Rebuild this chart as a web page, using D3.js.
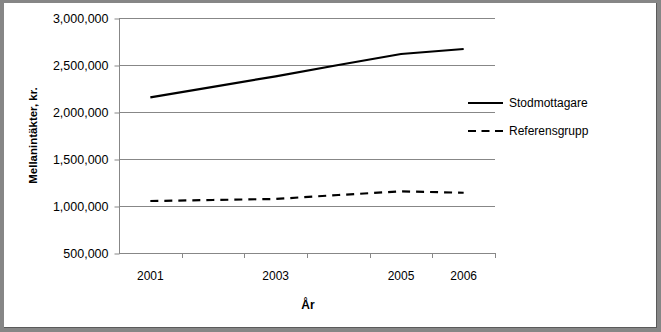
<!DOCTYPE html>
<html>
<head>
<meta charset="utf-8">
<script src="https://cdn.jsdelivr.net/npm/d3@7"></script>
<style>
  html, body { margin: 0; padding: 0; background: #fff; }
  svg { display: block; font-family: "Liberation Sans", Arial, sans-serif; }
</style>
</head>
<body>
<div id="plot"></div>
<script>
// Data
const years = ["2001", "2002", "2003", "2004", "2005", "2006"];
const yearLabels = ["2001", "", "2003", "", "2005", "2006"];
const stodmottagare = [2156000, 2268000, 2379000, 2500000, 2617000, 2670000];
const referensgrupp = [1053000, 1064000, 1075000, 1117000, 1156000, 1141000];
const yTicks = [500000, 1000000, 1500000, 2000000, 2500000, 3000000];
const seriesNames = ["Stodmottagare", "Referensgrupp"];

const W = 661, H = 332;
const plot = { left: 119, right: 495, top: 18, bottom: 253 };

const svg = d3.select("#plot").append("svg")
  .attr("width", W)
  .attr("height", H);

// Frame
svg.append("rect").attr("width", W).attr("height", H).attr("fill", "#868686");
svg.append("rect").attr("x", 4).attr("y", 3).attr("width", 652).attr("height", 324).attr("fill", "#fff");
svg.append("line").attr("x1", 656.5).attr("x2", 656.5).attr("y1", 3).attr("y2", 328).attr("stroke", "#5a5a5a");
svg.append("line").attr("x1", 4).attr("x2", 657).attr("y1", 327.5).attr("y2", 327.5).attr("stroke", "#5a5a5a");

// Scales
const xScale = d3.scaleBand().domain(years).range([plot.left, plot.right]).padding(0);
const yScale = d3.scaleLinear().domain([500000, 3000000]).range([plot.bottom, plot.top]);
const xMid = d => xScale(d) + xScale.bandwidth() / 2;

// Gridlines
svg.append("g").selectAll("line")
  .data(yTicks.slice(1))
  .join("line")
  .attr("x1", plot.left).attr("x2", plot.right)
  .attr("y1", d => Math.round(yScale(d)) + 0.5)
  .attr("y2", d => Math.round(yScale(d)) + 0.5)
  .attr("stroke", "#878787");

// Y axis
const yAxis = svg.append("g")
  .attr("transform", `translate(${plot.left + 0.5},0.5)`)
  .call(d3.axisLeft(yScale).tickValues(yTicks).tickFormat(d3.format(",")).tickSize(5).tickPadding(6));
yAxis.select(".domain").attr("stroke", "#878787").attr("d", `M0,${plot.top}V${plot.bottom}`);
yAxis.selectAll(".tick line").attr("stroke", "#878787");
yAxis.selectAll("text").attr("font-size", 12.5).attr("fill", "#000")
  .attr("font-family", "Liberation Sans, Arial, sans-serif");

// X axis
const xAxis = svg.append("g")
  .attr("transform", `translate(0,${plot.bottom + 0.5})`)
  .call(d3.axisBottom(xScale).tickSize(0).tickPadding(18).tickFormat((d, i) => yearLabels[i]));
xAxis.select(".domain").attr("stroke", "#878787").attr("d", `M${plot.left},0H${plot.right + 0.5}`);
xAxis.selectAll("text").attr("font-size", 12).attr("fill", "#000")
  .attr("font-family", "Liberation Sans, Arial, sans-serif");

// Category boundary ticks
const bounds = years.map(d => xScale(d)).concat([xScale(years[years.length - 1]) + xScale.bandwidth()]);
svg.append("g").selectAll("line")
  .data(bounds.slice(1))
  .join("line")
  .attr("x1", d => Math.round(d) + 0.5).attr("x2", d => Math.round(d) + 0.5)
  .attr("y1", plot.bottom).attr("y2", plot.bottom + 5)
  .attr("stroke", "#878787");

// Lines
const line = d3.line().x((d, i) => xMid(years[i])).y(d => yScale(d));

svg.append("path")
  .datum(stodmottagare)
  .attr("d", line)
  .attr("fill", "none")
  .attr("stroke", "#000")
  .attr("stroke-width", 2.2);

svg.append("path")
  .datum(referensgrupp)
  .attr("d", line)
  .attr("fill", "none")
  .attr("stroke", "#000")
  .attr("stroke-width", 2.2)
  .attr("stroke-dasharray", "8,6");

// Axis titles
svg.append("text")
  .attr("transform", `translate(37,${(plot.top + plot.bottom) / 2}) rotate(-90)`)
  .attr("text-anchor", "middle")
  .attr("font-size", 11.5)
  .attr("font-weight", "bold")
  .text("Mellanintäkter, kr.");

svg.append("text")
  .attr("x", 308)
  .attr("y", 309)
  .attr("text-anchor", "middle")
  .attr("font-size", 12)
  .attr("font-weight", "bold")
  .text("År");

// Legend
const legend = svg.append("g").selectAll("g")
  .data(seriesNames)
  .join("g")
  .attr("transform", (d, i) => `translate(468,${103 + i * 28})`);

legend.append("line")
  .attr("x1", 0).attr("x2", 35)
  .attr("stroke", "#000")
  .attr("stroke-width", 2.2)
  .attr("stroke-dasharray", (d, i) => i === 1 ? "8,5.5" : null);

legend.append("text")
  .attr("x", 41)
  .attr("dy", "0.35em")
  .attr("font-size", 12)
  .text(d => d);
</script>
</body>
</html>
